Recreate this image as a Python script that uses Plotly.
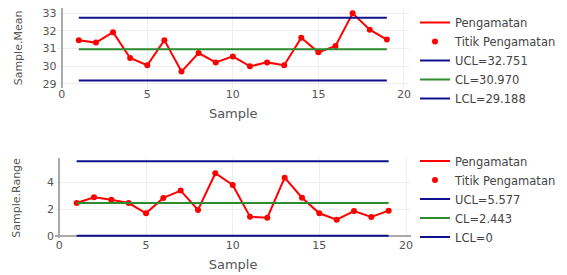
import plotly.graph_objects as go

samples = list(range(1, 20))
mean_values = [31.48, 31.34, 31.93, 30.47, 30.06, 31.48, 29.70, 30.75, 30.22, 30.56,
               30.00, 30.22, 30.06, 31.62, 30.79, 31.15, 33.00, 32.07, 31.51]
range_values = [2.45, 2.88, 2.70, 2.45, 1.68, 2.83, 3.38, 1.93, 4.68, 3.80,
                1.43, 1.35, 4.35, 2.85, 1.68, 1.20, 1.85, 1.40, 1.88]
mean_limits = {"UCL": 32.751, "CL": 30.970, "LCL": 29.188}
range_limits = {"UCL": 5.577, "CL": 2.443, "LCL": 0}
mean_labels = ["UCL=32.751", "CL=30.970", "LCL=29.188"]
range_labels = ["UCL=5.577", "CL=2.443", "LCL=0"]

RED = "#FF0000"
BLUE = "#10108C"
GREEN = "#2E8B2E"
fig = go.Figure()

def add_chart(values, limits, labels, xa, ya, leg):
    fig.add_trace(go.Scatter(x=samples, y=values, mode="lines", name="Pengamatan",
                             line=dict(color=RED, width=2), xaxis=xa, yaxis=ya, legend=leg))
    fig.add_trace(go.Scatter(x=samples, y=values, mode="markers", name="Titik Pengamatan",
                             marker=dict(color=RED, size=6), xaxis=xa, yaxis=ya, legend=leg))
    for key, lab, col in zip(["UCL", "CL", "LCL"], labels, [BLUE, GREEN, BLUE]):
        fig.add_trace(go.Scatter(x=[samples[0], samples[-1]], y=[limits[key]] * 2, mode="lines",
                                 name=lab, line=dict(color=col, width=2),
                                 xaxis=xa, yaxis=ya, legend=leg))

add_chart(mean_values, mean_limits, mean_labels, "x", "y", "legend")
add_chart(range_values, range_limits, range_labels, "x2", "y2", "legend2")

# page body adds an 8px offset; figure sized to the remaining window
W, H = 559, 267
FONT = "DejaVu Sans, Verdana, sans-serif"
tickfont = dict(size=11, color="#555", family=FONT)
xtitlefont = dict(size=13, color="#555", family=FONT)
ytitlefont = dict(size=11, color="#555", family=FONT)
legfont = dict(size=11.5, color="#444", family=FONT)
axis_common = dict(showgrid=True, gridcolor="#eee", zeroline=True, zerolinecolor="#aaa",
                   zerolinewidth=2, tickfont=tickfont, automargin=False, showline=False,
                   ticklabeloverflow="allow")

fig.update_layout(
    template="none",
    width=W, height=H,
    margin=dict(l=0, r=0, t=0, b=0),
    paper_bgcolor="white", plot_bgcolor="white",
    font=dict(family=FONT, color="#444"),
    xaxis=dict(domain=[49.4 / W, 401.1 / W], range=[-0.25, 20.3], anchor="y", dtick=5,
               ticklabelstandoff=-2,
               title=dict(text="Sample", font=xtitlefont, standoff=8), **axis_common),
    yaxis=dict(domain=[(H - 80) / H, 1.0], range=[28.77, 33.3], anchor="x",
               dtick=1, title=dict(text="Sample.Mean", font=ytitlefont, standoff=17), **axis_common),
    xaxis2=dict(domain=[47 / W, 403.2 / W], range=[-0.25, 20.3], anchor="y2", dtick=5,
                ticklabelstandoff=-1,
                title=dict(text="Sample", font=xtitlefont, standoff=8), **axis_common),
    yaxis2=dict(domain=[37 / H, 117.1 / H], range=[-0.17, 5.83], anchor="x2",
                dtick=2, title=dict(text="Sample.Range", font=ytitlefont, standoff=24), **axis_common),
    legend=dict(x=407 / W, y=1.0, xanchor="left", yanchor="top", font=legfont,
                bgcolor="rgba(0,0,0,0)", tracegroupgap=0),
    legend2=dict(x=407 / W, y=0.481, xanchor="left", yanchor="top", font=legfont,
                 bgcolor="rgba(0,0,0,0)", tracegroupgap=0),
    showlegend=True,
)

fig.write_html("out.html")
